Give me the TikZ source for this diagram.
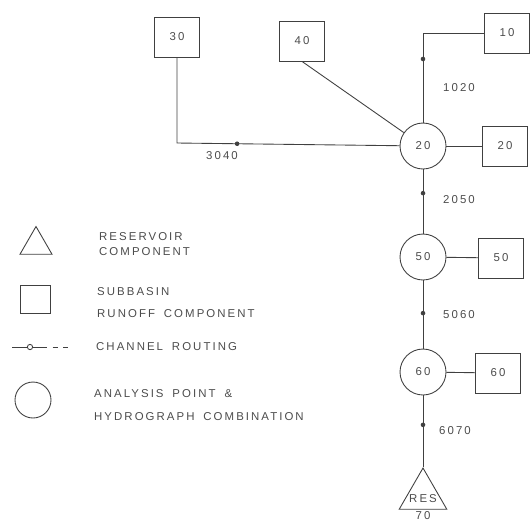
\documentclass[tikz,border=0pt]{standalone}
\usepackage{fontspec}
\setmainfont{Liberation Sans}[LetterSpace=18, WordSpace=1.7]
\usetikzlibrary{shapes.geometric, positioning}

\begin{document}
\begin{tikzpicture}[
    x=0.02cm, y=-0.02cm,
    every node/.style={font=\fontsize{6.5}{8}\selectfont, text=black!70},
    sub/.style={draw=black!75, minimum width=0.9cm, minimum height=0.8cm, line width=0.5pt},
    apt/.style={circle, draw=black!75, minimum size=0.92cm, line width=0.5pt},
    resv/.style={regular polygon, regular polygon sides=3, draw=black!75, minimum size=1.1cm, inner sep=0pt, line width=0.5pt},
    chan/.style={draw=black!75, line width=0.5pt},
    chdot/.style={circle, fill=black!75, inner sep=0pt, minimum size=2.6pt},
    num/.style={anchor=west},
    leg/.style={anchor=west, align=left},
]
\useasboundingbox (0,0) rectangle (530,522);

% subbasins
\node[sub] (sb30) at (177,37) {30};
\node[sub] (sb40) at (302,41) {40};
\node[sub] (sb10) at (507,33) {10};
\node[sub] (sb20) at (505,146) {20};
\node[sub] (sb50) at (501,258) {50};
\node[sub] (sb60) at (498,373) {60};

% analysis points
\node[apt] (ap20) at (423,146) {20};
\node[apt] (ap50) at (423,257) {50};
\node[apt] (ap60) at (423,372) {60};

% reservoir
\node[resv] (res70) at (423,495.5) {};
\node (restxt) at (423,499) {RES};
\node (resnum) at (423,516) {70};

\coordinate (c1020) at (423,33);
\coordinate (c3040) at (177,143);

% channel routing
\draw[chan] (sb10) -- (c1020) -- node[chdot, pos=.29] (d1020) {} (ap20);
\draw[chan] (sb30) -- (c3040) -- node[chdot, pos=.27] (d3040) {} (ap20);
\draw[chan] (sb40.south) -- (ap20);
\draw[chan] (ap20) -- (sb20);
\draw[chan] (ap20) -- node[chdot, pos=.37] (d2050) {} (ap50);
\draw[chan] (ap50) -- (sb50);
\draw[chan] (ap50) -- node[chdot, pos=.48] (d5060) {} (ap60);
\draw[chan] (ap60) -- (sb60);
\draw[chan] (res70.north) -- node[chdot, pos=.59] (d6070) {} (ap60);

\node[num] (l1020) at (437,88) {1020};
\node (l3040) at (222,156) {3040};
\node[num] (l2050) at (437,200) {2050};
\node[num] (l5060) at (437,315) {5060};
\node[num] (l6070) at (433,431) {6070};

% legend
\node[resv, minimum size=0.74cm] (lgres) at (36,245) {};
\node[leg] (lgrestxt) at (93,244) {RESERVOIR\\[1pt]COMPONENT};
\node[sub, minimum width=0.6cm, minimum height=0.56cm] (lgsub) at (35,299) {};
\node[leg] (lgsubtxt) at (91,303) {SUBBASIN\\[4.5pt]RUNOFF COMPONENT};
\coordinate (lga) at (12,347);
\coordinate (lgb) at (42,347);
\coordinate (lgc) at (72,347);
\draw[chan] (lga) -- node[chdot, pos=.6, draw=black!75, fill=white, minimum size=3pt] (lgdot) {} (lgb);
\draw[chan, dashed] (lgb) -- (lgc);
\node[leg] (lgchantxt) at (90,347) {CHANNEL ROUTING};
\node[apt, minimum size=0.72cm] (lgapt) at (33,400) {};
\node[leg] (lgapttxt) at (88,405) {ANALYSIS POINT \&\\[5.6pt]HYDROGRAPH COMBINATION};
\end{tikzpicture}
\end{document}
